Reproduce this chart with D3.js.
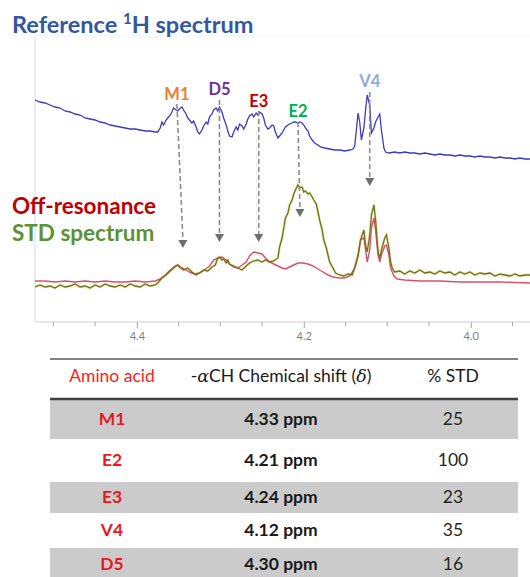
<!DOCTYPE html>
<html>
<head>
<meta charset="utf-8">
<script src="https://cdn.jsdelivr.net/npm/d3@7"></script>
<style>
  body { margin: 0; background: #fff; }
  svg { display: block; font-family: Lato, "Open Sans", sans-serif; }
</style>
</head>
<body>
<script>

// Reference 1H spectrum [ppm, intensity]
var referenceSpectrum = [
  [4.522,60],[4.516,58],[4.510,57],[4.504,55],[4.498,53],[4.492,52],[4.486,49],[4.480,48],
  [4.474,46],[4.468,45],[4.462,42],[4.456,41],[4.450,40],[4.444,38],[4.438,37],[4.432,35],
  [4.426,34],[4.420,33],[4.414,32],[4.408,31],[4.402,31],[4.396,30],[4.390,29],[4.384,29],
  [4.378,28],[4.375,28],[4.372,32],[4.370,38],[4.368,35],[4.365,40],[4.363,42],[4.360,45],
  [4.358,48],[4.356,52],[4.353,50],[4.351,49],[4.349,51],[4.346,53],[4.344,50],[4.341,46],
  [4.339,42],[4.337,40],[4.334,37],[4.332,39],[4.329,33],[4.327,28],[4.325,26],[4.322,30],
  [4.320,34],[4.317,38],[4.315,36],[4.313,43],[4.310,46],[4.308,50],[4.305,52],[4.303,49],
  [4.301,53],[4.298,48],[4.296,42],[4.293,35],[4.291,29],[4.289,24],[4.286,23],[4.284,28],
  [4.281,33],[4.279,30],[4.277,36],[4.274,34],[4.272,31],[4.269,36],[4.267,41],[4.265,44],
  [4.262,46],[4.260,43],[4.257,47],[4.255,45],[4.253,48],[4.250,46],[4.248,42],[4.246,35],
  [4.243,31],[4.241,32],[4.238,35],[4.236,34],[4.234,28],[4.231,22],[4.229,24],[4.226,27],
  [4.224,30],[4.222,33],[4.219,35],[4.217,36],[4.214,37],[4.212,38],[4.210,38],[4.207,37],
  [4.205,38],[4.202,37],[4.200,35],[4.198,32],[4.195,29],[4.193,24],[4.190,20],[4.187,17],
  [4.183,15],[4.180,13],[4.175,12],[4.169,11],[4.163,10],[4.157,10],[4.151,9],[4.145,10],
  [4.141,11],[4.139,14],[4.137,30],[4.135,47],[4.133,38],[4.131,20],[4.128,32],[4.126,50],
  [4.124,65],[4.121,55],[4.119,27],[4.116,32],[4.114,38],[4.111,43],[4.109,46],[4.107,30],
  [4.104,12],[4.102,8],[4.098,7],[4.091,8],[4.085,7],[4.079,8],[4.073,7],[4.067,7],
  [4.061,6],[4.055,7],[4.049,6],[4.043,5],[4.037,6],[4.031,5],[4.025,5],[4.019,4],
  [4.013,5],[4.007,4],[4.001,4],[3.995,3],[3.989,4],[3.983,3],[3.977,3],[3.971,2],
  [3.965,3],[3.959,2],[3.953,2],[3.947,1],[3.941,2],[3.935,1],[3.929,1]
];

// Off-resonance spectrum [ppm, intensity]
var offResonance = [
  [4.522,9],[4.510,9],[4.498,8],[4.486,9],[4.474,8],[4.462,9],[4.450,8],[4.438,9],
  [4.426,8],[4.414,8],[4.402,9],[4.390,8],[4.378,9],[4.372,11],[4.366,15],[4.360,20],
  [4.354,24],[4.351,25],[4.346,22],[4.341,20],[4.337,18],[4.331,16],[4.325,17],[4.319,20],
  [4.313,24],[4.308,30],[4.303,32],[4.298,33],[4.293,30],[4.289,26],[4.284,23],[4.279,22],
  [4.274,25],[4.269,28],[4.265,34],[4.260,38],[4.255,37],[4.250,36],[4.246,32],[4.241,28],
  [4.236,26],[4.231,24],[4.226,22],[4.222,21],[4.217,23],[4.212,25],[4.207,27],[4.201,27],
  [4.195,26],[4.189,24],[4.183,21],[4.177,18],[4.171,15],[4.165,13],[4.157,12],[4.151,12],
  [4.145,14],[4.139,22],[4.135,35],[4.132,50],[4.128,52],[4.126,40],[4.124,28],[4.121,40],
  [4.119,62],[4.116,72],[4.114,60],[4.111,35],[4.109,28],[4.107,35],[4.103,44],[4.101,45],
  [4.098,35],[4.096,22],[4.092,14],[4.088,11],[4.079,10],[4.061,9],[4.037,9],[4.013,8],
  [3.989,8],[3.965,8],[3.929,7]
];

// STD spectrum [ppm, intensity]
var stdSpectrum = [
  [4.522,3],[4.516,5],[4.510,3],[4.504,4],[4.498,2],[4.492,5],[4.486,3],[4.480,4],
  [4.474,6],[4.468,3],[4.462,4],[4.456,2],[4.450,5],[4.444,3],[4.438,6],[4.432,4],
  [4.426,3],[4.420,5],[4.414,3],[4.408,6],[4.402,4],[4.396,3],[4.390,6],[4.384,4],
  [4.378,5],[4.375,7],[4.370,12],[4.365,15],[4.360,19],[4.356,22],[4.351,25],[4.349,23],
  [4.344,20],[4.339,22],[4.334,18],[4.329,15],[4.325,17],[4.320,20],[4.315,19],[4.310,23],
  [4.306,25],[4.303,32],[4.301,33],[4.298,30],[4.296,31],[4.293,27],[4.291,30],[4.289,26],
  [4.284,24],[4.279,22],[4.274,20],[4.269,24],[4.265,27],[4.260,29],[4.255,30],[4.250,28],
  [4.246,30],[4.241,28],[4.236,29],[4.231,32],[4.229,43],[4.226,52],[4.224,62],[4.222,72],
  [4.219,77],[4.217,85],[4.214,90],[4.212,96],[4.210,100],[4.207,105],[4.205,102],[4.202,103],
  [4.200,98],[4.198,99],[4.195,96],[4.193,97],[4.190,93],[4.188,90],[4.185,86],[4.183,78],
  [4.181,70],[4.178,60],[4.176,50],[4.173,42],[4.171,35],[4.169,28],[4.165,22],[4.162,17],
  [4.157,15],[4.152,14],[4.147,16],[4.142,15],[4.139,22],[4.135,34],[4.132,50],[4.128,60],
  [4.126,45],[4.124,38],[4.121,55],[4.119,75],[4.116,85],[4.114,70],[4.111,38],[4.109,32],
  [4.107,40],[4.103,52],[4.101,55],[4.098,42],[4.096,28],[4.094,22],[4.091,18],[4.085,19],
  [4.079,16],[4.073,19],[4.067,17],[4.061,20],[4.055,17],[4.049,18],[4.043,16],[4.037,19],
  [4.031,17],[4.025,18],[4.019,15],[4.013,18],[4.007,16],[4.001,18],[3.995,15],[3.989,17],
  [3.983,16],[3.977,17],[3.971,14],[3.965,16],[3.959,15],[3.953,14],[3.947,16],[3.941,14],
  [3.935,15],[3.929,15]
];

// axis ticks (ppm)
var majorTicks = [4.4, 4.2, 4.0];
var minorTicks = [4.5, 4.45, 4.35, 4.3, 4.25, 4.15, 4.1, 4.05, 3.95];

// peak labels
var peakNames = ['M1', 'D5', 'E3', 'E2', 'V4'];
var peakColors = ['#ed7d31', '#7030a0', '#c00000', '#00b050', '#8faadc'];
var peakPpm = [4.352, 4.301, 4.254, 4.207, 4.121];

// table
var tableHeader = ['Amino acid', '-\u03b1CH Chemical shift (\u03b4)', '% STD'];
var aminoAcids = ['M1', 'E2', 'E3', 'V4', 'D5'];
var chemShifts = [4.33, 4.21, 4.24, 4.12, 4.30];
var stdPercent = [25, 100, 23, 35, 16];

var width = 530, height = 577;

var svg = d3.select('body').append('svg')
  .attr('width', width)
  .attr('height', height);

var x = d3.scaleLinear().domain([4.522, 3.929]).range([35, 530]);
var yTop = d3.scaleLinear().domain([0, 70]).range([160, 90]);
var yBot = d3.scaleLinear().domain([0, 100]).range([290, 190]);

// frame
svg.append('line').attr('x1', 35).attr('x2', 530).attr('y1', 36).attr('y2', 36)
  .attr('stroke', '#f2f2f2');
svg.append('line').attr('x1', 35).attr('x2', 35).attr('y1', 36).attr('y2', 322)
  .attr('stroke', '#d9d9d9');

// axis
var axisG = svg.append('g').attr('transform', 'translate(0,322)');
axisG.call(d3.axisBottom(x).tickValues(majorTicks).tickSize(6).tickPadding(4)
  .tickFormat(d3.format('.1f')));
axisG.select('.domain').attr('stroke', '#cfcfcf').attr('d', 'M35,0H530');
axisG.selectAll('.tick line').attr('stroke', '#a6a6a6');
axisG.selectAll('.tick text').attr('fill', '#7f7f7f').attr('font-size', 11)
  .attr('font-family', 'Lato, sans-serif');
axisG.selectAll('.minor').data(minorTicks).enter().append('line')
  .attr('x1', function(d) { return x(d); })
  .attr('x2', function(d) { return x(d); })
  .attr('y1', 0).attr('y2', 4)
  .attr('stroke', '#a6a6a6');

// spectra
var lineTop = d3.line()
  .x(function(d) { return x(d[0]); })
  .y(function(d) { return yTop(d[1]); });
var lineBot = d3.line()
  .x(function(d) { return x(d[0]); })
  .y(function(d) { return yBot(d[1]); });

svg.append('path').datum(referenceSpectrum).attr('d', lineTop)
  .attr('fill', 'none').attr('stroke', '#3b3bbd').attr('stroke-width', 1.3);

svg.append('path').datum(stdSpectrum).attr('d', lineBot)
  .attr('fill', 'none').attr('stroke', '#dede9a').attr('stroke-width', 3).attr('opacity', 0.6);
svg.append('path').datum(offResonance).attr('d', lineBot)
  .attr('fill', 'none').attr('stroke', '#d9506a').attr('stroke-width', 1.4);
svg.append('path').datum(stdSpectrum).attr('d', lineBot)
  .attr('fill', 'none').attr('stroke', '#6f721c').attr('stroke-width', 1.3);

// dashed arrows, label y / arrow start / arrow tip in pixels
var labelY = [100, 95, 107, 117, 87];
var arrowFrom = [104, 100, 111, 122, 92];
var arrowTo = [248, 242, 242, 217, 186];
var arrowShift = [6, 0, 0, 2, 0];

peakNames.forEach(function(name, i) {
  var x0 = x(peakPpm[i]);
  var x1 = x0 + arrowShift[i];
  svg.append('line')
    .attr('x1', x0).attr('y1', arrowFrom[i])
    .attr('x2', x1).attr('y2', arrowTo[i] - 8)
    .attr('stroke', '#8c8c8c').attr('stroke-width', 1.6)
    .attr('stroke-dasharray', '5,3');
  svg.append('path')
    .attr('d', 'M' + (x1 - 4.5) + ',' + (arrowTo[i] - 8) + 'L' + (x1 + 4.5) + ',' +
      (arrowTo[i] - 8) + 'L' + x1 + ',' + arrowTo[i] + 'Z')
    .attr('fill', '#6e6e6e');
  svg.append('text')
    .attr('x', x(peakPpm[i])).attr('y', labelY[i])
    .attr('text-anchor', 'middle')
    .attr('font-weight', 'bold').attr('font-size', 16.5)
    .attr('fill', peakColors[i])
    .text(name);
});

// titles
var title = svg.append('text').attr('x', 12).attr('y', 33)
  .attr('font-weight', 'bold').attr('font-size', 23.5).attr('fill', '#34589f');
title.append('tspan').text('Reference ');
title.append('tspan').attr('font-size', 15).attr('dy', -9).text('1');
title.append('tspan').attr('dy', 9).text('H spectrum');

svg.append('text').attr('x', 12).attr('y', 214)
  .attr('font-weight', 'bold').attr('font-size', 22.5).attr('fill', '#c00000')
  .text('Off-resonance');
svg.append('text').attr('x', 12).attr('y', 241)
  .attr('font-weight', 'bold').attr('font-size', 22.5).attr('fill', '#5a9234')
  .text('STD spectrum');

// table
var colX = [112, 281, 453];
var rowTop = [399, 439, 481, 513, 547];
var rowBottom = [439, 481, 513, 547, 580];

aminoAcids.forEach(function(aa, i) {
  if (i % 2 === 0) {
    svg.append('rect')
      .attr('x', 50).attr('y', rowTop[i] + 1)
      .attr('width', 468).attr('height', rowBottom[i] - rowTop[i] - 1)
      .attr('fill', '#cbcbcb');
  }
  var cy = (rowTop[i] + rowBottom[i]) / 2 + 6;
  if (i === 4) cy = 570;
  svg.append('text').attr('x', colX[0]).attr('y', cy)
    .attr('text-anchor', 'middle').attr('font-weight', 'bold').attr('font-size', 17.5)
    .attr('fill', '#e8191e').text(aa);
  svg.append('text').attr('x', colX[1]).attr('y', cy)
    .attr('text-anchor', 'middle').attr('font-weight', 'bold').attr('font-size', 17.5)
    .attr('fill', '#1a1a1a').text(chemShifts[i].toFixed(2) + ' ppm');
  svg.append('text').attr('x', colX[2]).attr('y', cy)
    .attr('text-anchor', 'middle').attr('font-size', 17.5)
    .attr('fill', '#262626').text(stdPercent[i]);
});

svg.append('line').attr('x1', 50).attr('x2', 518).attr('y1', 359).attr('y2', 359)
  .attr('stroke', '#595959').attr('stroke-width', 1.5);
svg.append('line').attr('x1', 50).attr('x2', 518).attr('y1', 399).attr('y2', 399)
  .attr('stroke', '#404040').attr('stroke-width', 2.5);

svg.append('text').attr('x', colX[0]).attr('y', 382)
  .attr('text-anchor', 'middle').attr('font-size', 17.5).attr('fill', '#ff1a1a')
  .text(tableHeader[0]);
var hdr = svg.append('text').attr('x', colX[1]).attr('y', 382)
  .attr('text-anchor', 'middle').attr('font-size', 17.5).attr('fill', '#1a1a1a');
hdr.append('tspan').text('-');
hdr.append('tspan').attr('font-family', '"DejaVu Serif", serif').attr('font-style', 'italic')
  .text(tableHeader[1].charAt(1));
hdr.append('tspan').text(tableHeader[1].slice(2, tableHeader[1].length - 2));
hdr.append('tspan').attr('font-family', '"DejaVu Serif", serif').attr('font-style', 'italic')
  .text(tableHeader[1].charAt(tableHeader[1].length - 2));
hdr.append('tspan').text(')');
svg.append('text').attr('x', colX[2]).attr('y', 382)
  .attr('text-anchor', 'middle').attr('font-size', 17.5).attr('fill', '#1a1a1a')
  .text(tableHeader[2]);

</script>
</body>
</html>
